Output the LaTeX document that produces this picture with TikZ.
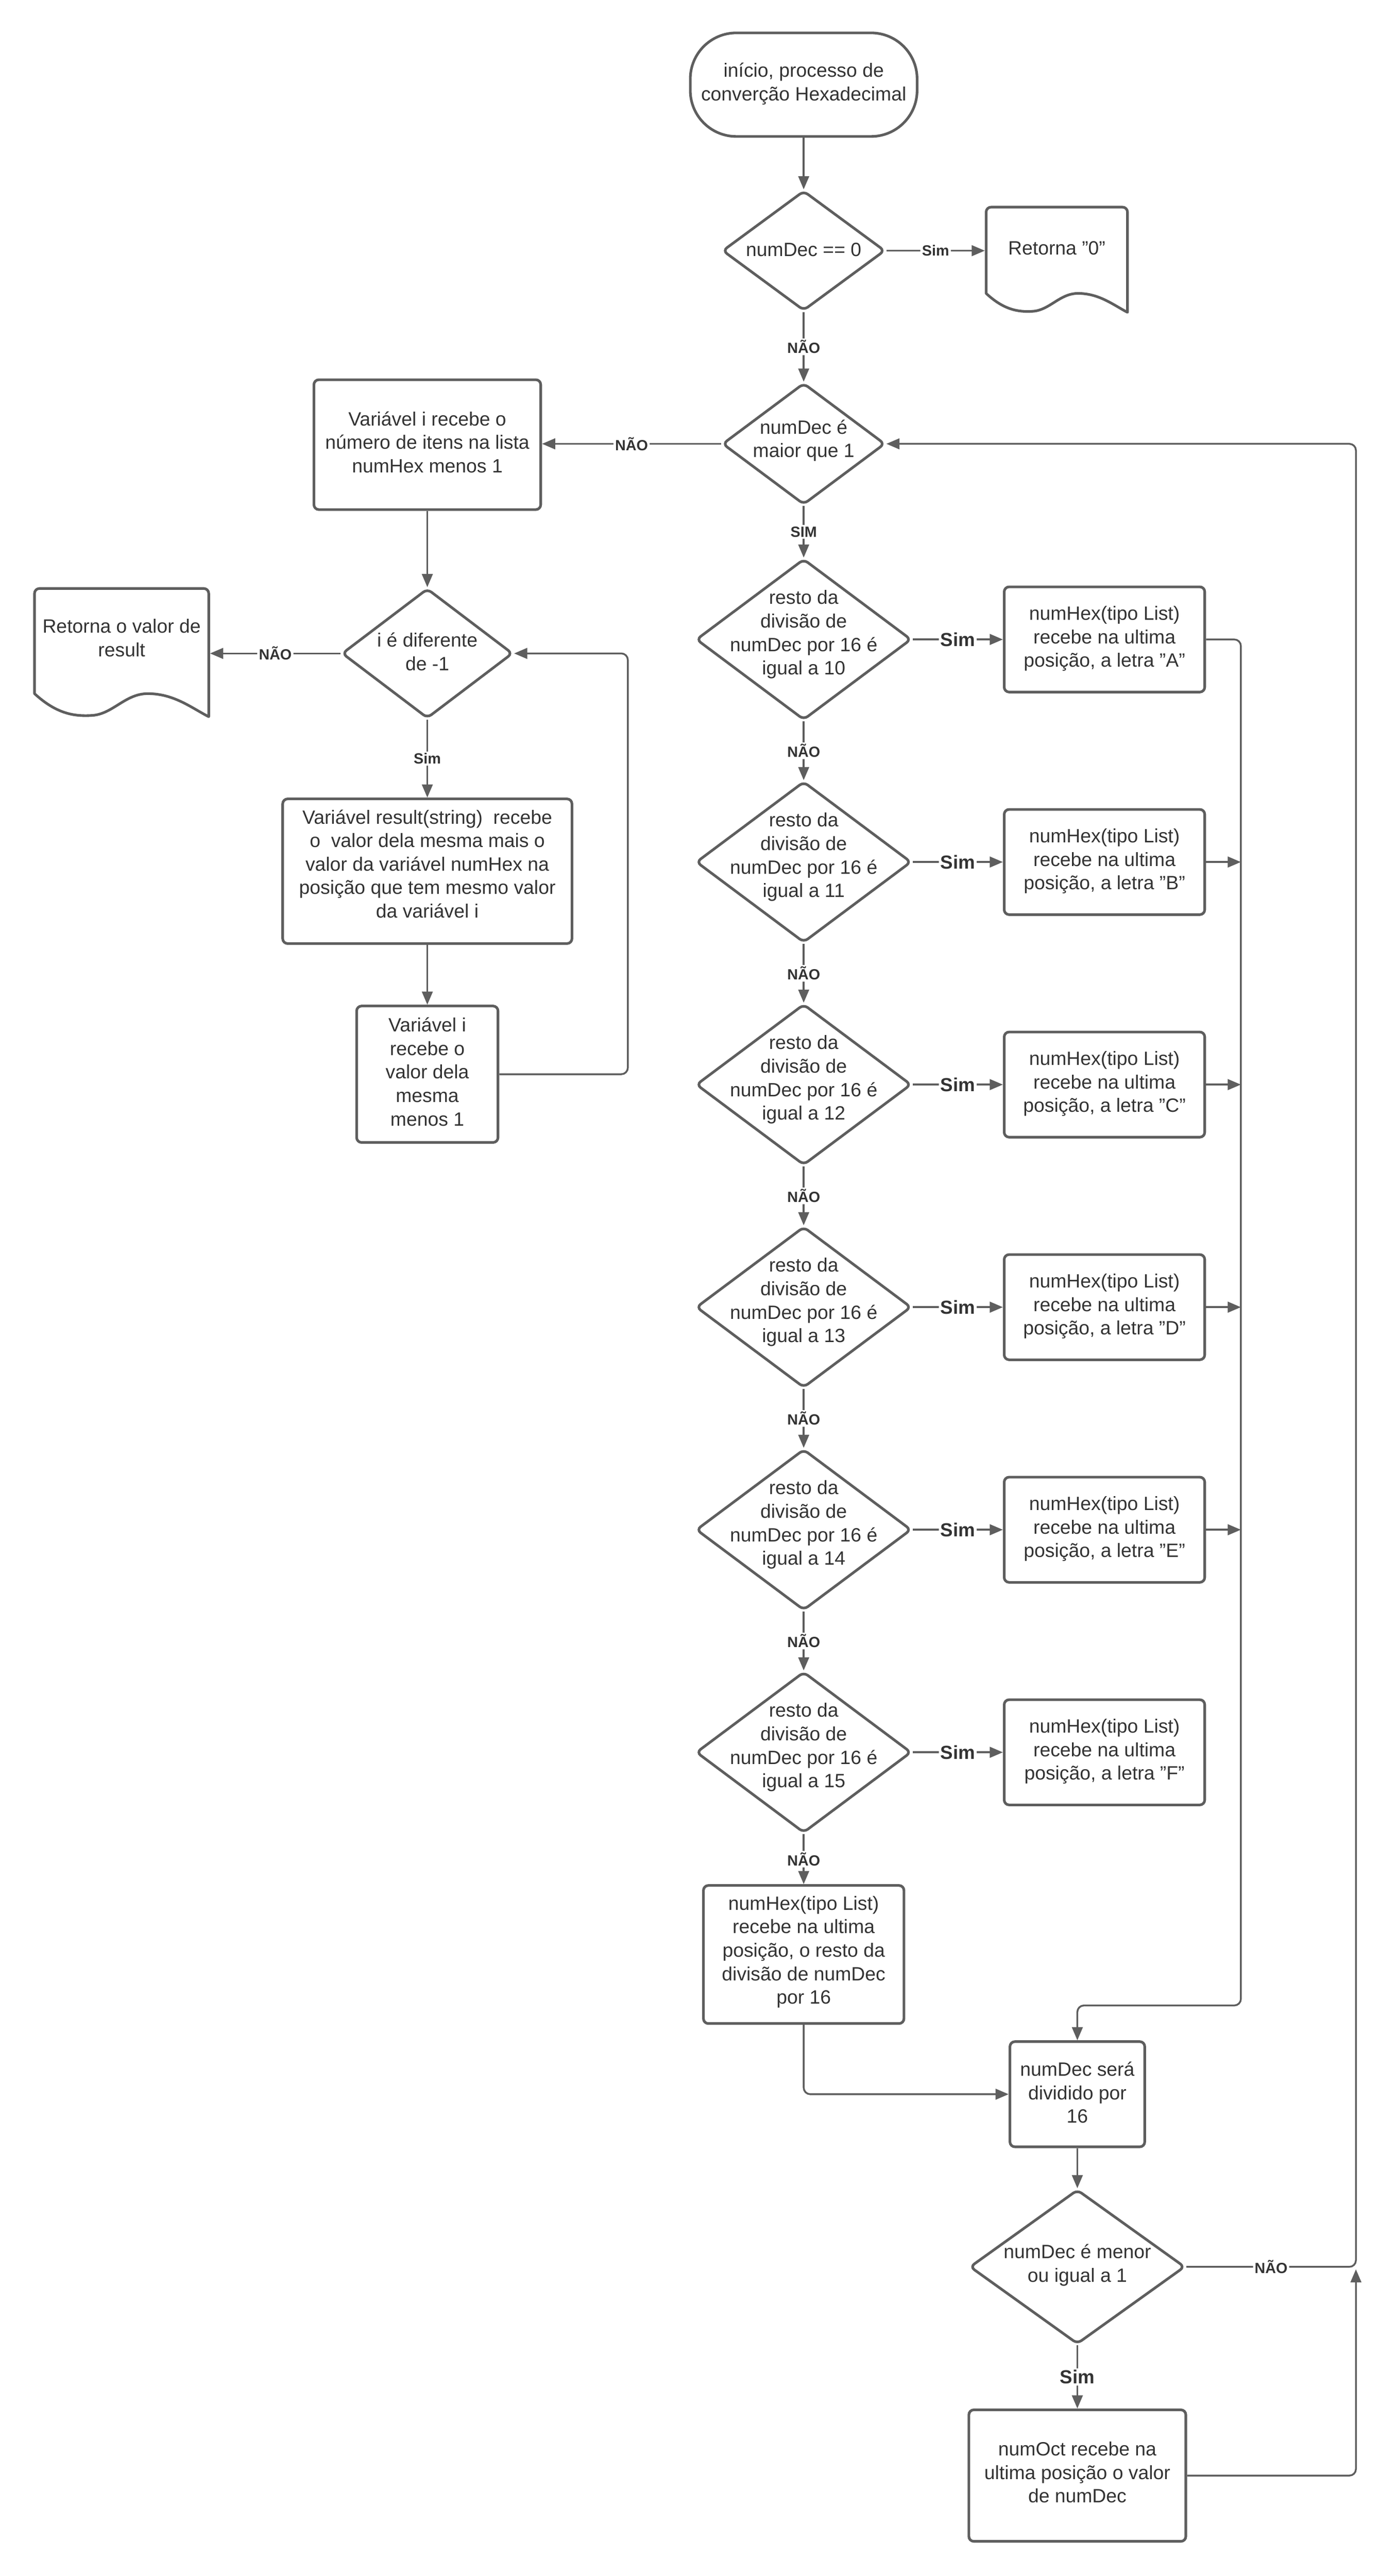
\documentclass[tikz,border=0pt]{standalone}
\usepackage{fontspec}
\setmainfont{Liberation Sans}
\usetikzlibrary{shapes.geometric,arrows.meta,calc}
\definecolor{ln}{HTML}{5E5E5E}
\definecolor{tx}{HTML}{333333}
\newcommand{\mydoc}[4]{% L T W H
  \draw[draw=ln, line width=1.6pt, fill=white, line join=round, line cap=round]
    (#1,{#2+0.82*#4}) [rounded corners=3pt] -- (#1,#2) -- ({#1+#3},#2) [sharp corners] -- ({#1+#3},{#2+#4})
    .. controls ({#1+0.9*#3},{#2+0.93*#4}) and ({#1+0.8*#3},{#2+0.82*#4}) .. ({#1+0.65*#3},{#2+0.82*#4})
    .. controls ({#1+0.52*#3},{#2+0.82*#4}) and ({#1+0.45*#3},{#2+0.98*#4}) .. ({#1+0.33*#3},{#2+0.99*#4})
    .. controls ({#1+0.22*#3},{#2+1.0*#4}) and ({#1+0.12*#3},{#2+0.97*#4}) .. (#1,{#2+0.82*#4}) -- cycle;
}
\begin{document}
\begin{tikzpicture}[x=1pt,y=-1pt,
  shp/.style={draw=ln, line width=1.6pt, fill=white},
  box/.style={shp, rectangle, rounded corners=3pt, inner sep=0pt},
  dia/.style={shp, diamond, rounded corners=3pt, inner sep=0pt},
  ghost/.style={rectangle, inner sep=0pt, outer sep=0.8pt},
  txt/.style={text=tx, align=center, font=\fontsize{11.7}{14.3}\selectfont, inner sep=0pt},
  con/.style={draw=ln, line width=1.1pt, -{Triangle[length=8pt,width=6.5pt]}, rounded corners=4pt},
  lbl/.style={fill=white, text=tx, font=\bfseries\fontsize{9}{10}\selectfont, inner sep=1pt},
  lblb/.style={fill=white, text=tx, font=\bfseries\fontsize{11.5}{12}\selectfont, inner sep=1pt},
]
\useasboundingbox (0,0) rectangle (850,1567.1);
\fill[white] (0,0) rectangle (850,1567.1);

% ---------- shapes ----------
\node[shp, rectangle, rounded corners=28pt, minimum width=138pt, minimum height=63pt] (start) at (489,51.5) {};
\node[dia, minimum width=99pt, minimum height=73pt] (d1) at (489,152.5) {};
\mydoc{600}{126}{86}{64}
\node[ghost, minimum width=86pt, minimum height=64pt] (doc0) at (643,158) {};
\node[dia, minimum width=99pt, minimum height=74pt] (d2) at (489,270) {};

\node[box, minimum width=138pt, minimum height=79pt] (bI) at (260,270.5) {};
\node[dia, minimum width=104pt, minimum height=79pt] (di) at (260,397.5) {};
\mydoc{21}{358}{106}{78}
\node[ghost, minimum width=106pt, minimum height=78pt] (docR) at (74,397) {};
\node[box, minimum width=176pt, minimum height=88pt] (bRes) at (260,530) {};
\node[box, minimum width=86pt, minimum height=83pt] (bDec) at (260,653.5) {};

\foreach \n/\y in {A/389,B/524.4,C/659.8,D/795.2,E/930.6,F/1066}{
  \node[dia, minimum width=131pt, minimum height=98pt] (d\n) at (489,\y) {};
  \node[box, minimum width=122pt, minimum height=64pt] (b\n) at (672,\y) {};
}
\node[box, minimum width=122pt, minimum height=84pt] (bG) at (489,1189) {};
\node[box, minimum width=82pt, minimum height=64pt] (bDiv) at (655.5,1274) {};
\node[dia, minimum width=131pt, minimum height=94pt] (dM) at (655.5,1379) {};
\node[box, minimum width=132pt, minimum height=80pt] (bOct) at (655.5,1506) {};

\coordinate (rb) at (825,0);
\coordinate (lb) at (382,0);
\coordinate (bend) at (755,1220);
\coordinate (jn) at (825,1380.5);

% ---------- texts ----------
\node[txt] at (489,51) {início, processo de\\converção Hexadecimal};
\node[txt] at (489,152) {numDec == 0};
\node[txt] at (643,151) {Retorna "0"};
\node[txt] at (489,268) {numDec é\\maior que 1};
\node[txt] at (260,269) {Variável i recebe o\\número de itens na lista\\numHex menos 1};
\node[txt] at (260,396.5) {i é diferente\\de -1};
\node[txt] at (74,388) {Retorna o valor de\\result};
\node[txt] at (260,525.5) {Variável result(string)\ \ recebe\\o\ \ valor dela mesma mais o\\valor da variável numHex na\\posição que tem mesmo valor\\da variável i};
\node[txt] at (260,652) {Variável i\\recebe o\\valor dela\\mesma\\menos 1};
\foreach \n/\y/\v/\L in {A/389/10/A,B/524.4/11/B,C/659.8/12/C,D/795.2/13/D,E/930.6/14/E,F/1066/15/F}{
  \node[txt] at (489,\y-3) {resto da\\divisão de\\numDec por 16 é\\igual a \v};
  \node[txt] at (672,\y-0.5) {numHex(tipo List)\\recebe na ultima\\posição, a letra "\L"};
}
\node[txt] at (489,1187.5) {numHex(tipo List)\\recebe na ultima\\posição, o resto da\\divisão de numDec\\por 16};
\node[txt] at (655.5,1273) {numDec será\\dividido por\\16};
\node[txt] at (655.5,1378) {numDec é menor\\ou igual a 1};
\node[txt] at (655.5,1504) {numOct recebe na\\ultima posição o valor\\de numDec};

% ---------- connectors ----------
\draw[con] (start.south) -- (d1.north);
\draw[con] (d1.east) -- node[lbl]{Sim} (d1.east -| doc0.west);
\draw[con] (d1.south) -- node[lbl]{NÃO} (d2.north);
\draw[con] (d2.west) -- node[lbl]{NÃO} (d2.west -| bI.east);
\draw[con] (d2.south) -- node[lbl]{SIM} (dA.north);
\foreach \n in {A,B,C,D,E,F}{
  \draw[con] (d\n.east) -- node[lblb]{Sim} (b\n.west);
}
\draw[con] (dA.south) -- node[lbl]{NÃO} (dB.north);
\draw[con] (dB.south) -- node[lbl]{NÃO} (dC.north);
\draw[con] (dC.south) -- node[lbl]{NÃO} (dD.north);
\draw[con] (dD.south) -- node[lbl]{NÃO} (dE.north);
\draw[con] (dE.south) -- node[lbl]{NÃO} (dF.north);
\draw[con] (dF.south) -- node[lbl]{NÃO} (bG.north);
\draw[con] (bA.east) -| (bend) -| (bDiv.north);
\foreach \n in {B,C,D,E}{
  \draw[con] (b\n.east) -- (b\n.east -| bend);
}
\draw[con] (bG.south) |- (bDiv.west);
\draw[con] (bDiv.south) -- (dM.north);
\draw[con] (dM.east) -- node[lbl]{NÃO} (dM.east -| rb) |- (d2.east);
\draw[con] (dM.south) -- node[lblb]{Sim} (bOct.north);
\draw[con] (bOct.east) -| (jn);

\draw[con] (bI.south) -- (di.north);
\draw[con] (di.west) -- node[lbl]{NÃO} (di.west -| docR.east);
\draw[con] (di.south) -- node[lbl]{Sim} (bRes.north);
\draw[con] (bRes.south) -- (bDec.north);
\draw[con] (bDec.east) -- (bDec.east -| lb) |- (di.east);
\end{tikzpicture}
\end{document}
